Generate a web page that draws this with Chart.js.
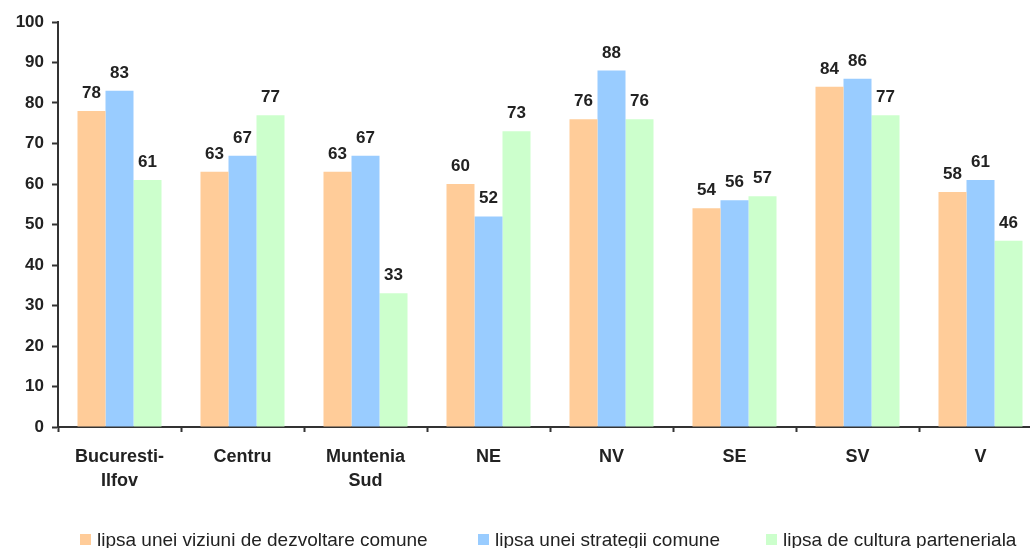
<!DOCTYPE html>
<html>
<head>
<meta charset="utf-8">
<script src="https://cdn.jsdelivr.net/npm/chart.js@4"></script>
<style>
	html, body { margin: 0; padding: 0; background: #fff; overflow: hidden; }
	#wrap { position: relative; width: 1030px; height: 548px; overflow: hidden; }
	#wrap canvas { position: absolute; left: 0; top: 0; }
	.leg { position: absolute; top: 529px; font: 19px "Liberation Sans", Arial, sans-serif; color: #222; white-space: nowrap; }
	.leg i { position: absolute; left: -17px; top: 5px; width: 11px; height: 11px; }
</style>
</head>
<body>
<div id="wrap">
	<canvas id="chart" width="1042" height="548"></canvas>
	<span class="leg" style="left:97px"><i style="background:#FFCC99"></i>lipsa unei viziuni de dezvoltare comune</span>
	<span class="leg" style="left:495px"><i style="background:#99CCFF"></i>lipsa unei strategii comune</span>
	<span class="leg" style="left:783px"><i style="background:#CCFFCC"></i>lipsa de cultura parteneriala</span>
</div>
<script>
var regiuni = [['Bucuresti-', 'Ilfov'], 'Centru', ['Muntenia', 'Sud'], 'NE', 'NV', 'SE', 'SV', 'V'];
var viziune = [78, 63, 63, 60, 76, 54, 84, 58];
var strategie = [83, 67, 67, 52, 88, 56, 86, 61];
var cultura = [61, 77, 33, 73, 76, 57, 77, 46];
var y_ticks = [0, 10, 20, 30, 40, 50, 60, 70, 80, 90, 100];

// etichete cu valoarea deasupra fiecarei bare
var valori_plugin = {
	id: 'valori',
	afterDatasetsDraw: function(chart)
	{
		var ctx = chart.ctx;
		ctx.save();
		ctx.font = 'bold 17px "Liberation Sans", Arial, sans-serif';
		ctx.fillStyle = '#222';
		ctx.textAlign = 'center';
		ctx.textBaseline = 'alphabetic';
		chart.data.datasets.forEach(function(ds, i)
		{
			chart.getDatasetMeta(i).data.forEach(function(bar, j)
			{
				ctx.fillText(ds.data[j], bar.x, bar.y - 13);
			});
		});
		ctx.restore();
	}
};

new Chart(
	document.getElementById('chart')
,	{
		type: 'bar'
	,	data:
		{
			labels: regiuni
		,	datasets:
			[
				{ label: 'lipsa unei viziuni de dezvoltare comune', data: viziune, backgroundColor: '#FFCC99' }
			,	{ label: 'lipsa unei strategii comune', data: strategie, backgroundColor: '#99CCFF' }
			,	{ label: 'lipsa de cultura parteneriala', data: cultura, backgroundColor: '#CCFFCC' }
			]
		}
	,	options:
		{
			responsive: false
		,	animation: false
		,	layout: { padding: { top: 22, left: 0, right: 0, bottom: 0 } }
		,	datasets: { bar: { categoryPercentage: 0.683, barPercentage: 1 } }
		,	plugins:
			{
				legend: { display: false }
			,	tooltip: { enabled: false }
			}
		,	scales:
			{
				x:
				{
					grid: { drawOnChartArea: false, offset: true, tickLength: 5, tickColor: '#333', tickWidth: 2 }
				,	border: { color: '#333', width: 2 }
				,	ticks:
					{
						color: '#222'
					,	padding: 13
					,	maxRotation: 0
					,	autoSkip: false
					,	font: { family: '"Liberation Sans", Arial, sans-serif', size: 18, weight: 'bold', lineHeight: 1.33 }
					}
				,	afterFit: function(scale) { scale.height = 121; }
				}
			,	y:
				{
					min: 0
				,	max: 100
				,	afterBuildTicks: function(scale) { scale.ticks = y_ticks.map(function(v) { return { value: v }; }); }
				,	grid: { drawOnChartArea: false, tickLength: 6, tickColor: '#333', tickWidth: 2 }
				,	border: { color: '#333', width: 2 }
				,	ticks:
					{
						color: '#222'
					,	padding: 8
					,	font: { family: '"Liberation Sans", Arial, sans-serif', size: 17, weight: 'bold' }
					}
				,	afterFit: function(scale) { scale.width = 58; }
				}
			}
		}
	,	plugins: [valori_plugin]
	}
);
</script>
</body>
</html>
